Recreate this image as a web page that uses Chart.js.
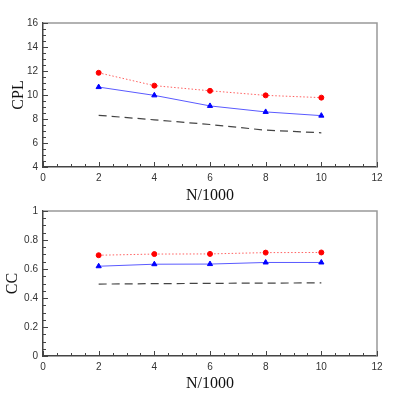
<!DOCTYPE html>
<html>
<head>
<meta charset="utf-8">
<script src="https://cdn.jsdelivr.net/npm/chart.js@4.4.0/dist/chart.umd.min.js"></script>
<style>
  html, body { margin: 0; padding: 0; background: #fff; }
  #wrap { position: relative; width: 399px; height: 399px; }
  canvas { position: absolute; left: 0; }
</style>
</head>
<body>
<div id="wrap">
  <canvas id="cplChart" width="399" height="200" style="top:0"></canvas>
  <canvas id="ccChart" width="399" height="199" style="top:200px"></canvas>
</div>
<script>
// N/1000 values
const nValues = [2, 4, 6, 8, 10];

// CPL panel
const cplRed = [11.85, 10.78, 10.35, 9.97, 9.78];
const cplBlue = [10.66, 9.97, 9.09, 8.59, 8.28];
const cplDashed = [8.31, 7.93, 7.54, 7.07, 6.85];

// CC panel
const ccRed = [0.695, 0.703, 0.704, 0.713, 0.714];
const ccBlue = [0.619, 0.633, 0.634, 0.645, 0.645];
const ccDashed = [0.496, 0.499, 0.501, 0.503, 0.504];

const tickFont = { family: "'Liberation Sans', Arial, sans-serif", size: 10 };
const titleFont = { family: "'Liberation Serif', 'Times New Roman', serif", size: 16 };

const toPoints = (ys) => ys.map((y, i) => ({ x: nValues[i], y: y }));

// draws the inward tick marks and the top/right frame lines
const frameTicks = {
    id: 'frameTicks',
    afterDraw(chart, args, opts) {
        const ctx = chart.ctx;
        const area = chart.chartArea;
        const xs = chart.scales.x;
        const ys = chart.scales.y;
        ctx.save();
        ctx.strokeStyle = '#999';
        ctx.lineWidth = 1.5;
        ctx.beginPath();
        ctx.moveTo(area.left, area.top);
        ctx.lineTo(area.right, area.top);
        ctx.lineTo(area.right, area.bottom);
        ctx.stroke();

        ctx.strokeStyle = '#444';
        ctx.lineWidth = 1;
        ctx.beginPath();
        const xStep = opts.xMinor;
        for (let v = xs.min; v <= xs.max + 1e-9; v += xStep) {
            const px = Math.round(xs.getPixelForValue(v)) + 0.5;
            const major = Math.abs(v / opts.xMajor - Math.round(v / opts.xMajor)) < 1e-6;
            ctx.moveTo(px, area.bottom);
            ctx.lineTo(px, area.bottom - (major ? 5 : 3));
        }
        const yStep = opts.yMinor;
        for (let v = ys.min; v <= ys.max + 1e-9; v += yStep) {
            const py = Math.round(ys.getPixelForValue(v)) + 0.5;
            const major = Math.abs(v / opts.yMajor - Math.round(v / opts.yMajor)) < 1e-6;
            ctx.moveTo(area.left, py);
            ctx.lineTo(area.left + (major ? 5 : 3), py);
        }
        ctx.stroke();
        ctx.restore();
    }
};

function makeChart(canvasId, cfg) {
    const ctx = document.getElementById(canvasId).getContext('2d');
    return new Chart(ctx, {
        type: 'line',
        data: {
            datasets: [
                {
                    data: toPoints(cfg.red),
                    borderColor: 'rgba(255, 80, 80, 0.9)',
                    borderWidth: 1,
                    borderDash: [1.5, 2],
                    pointStyle: 'circle',
                    pointRadius: 2.5,
                    pointBorderWidth: 1,
                    pointBackgroundColor: '#ff0000',
                    pointBorderColor: '#ff0000',
                    tension: 0,
                },
                {
                    data: toPoints(cfg.blue),
                    borderColor: '#5a5aff',
                    borderWidth: 1,
                    pointStyle: 'triangle',
                    pointRadius: 3,
                    pointBorderWidth: 1,
                    pointBackgroundColor: '#0000ff',
                    pointBorderColor: '#0000ff',
                    tension: 0,
                },
                {
                    data: toPoints(cfg.dashed),
                    borderColor: '#444',
                    borderWidth: 1.2,
                    borderDash: [8, 5],
                    pointRadius: 0,
                    tension: 0,
                },
            ]
        },
        options: {
            responsive: false,
            animation: false,
            devicePixelRatio: 1,
            layout: { padding: cfg.padding },
            plugins: {
                legend: { display: false },
                tooltip: { enabled: false },
                frameTicks: cfg.ticks,
            },
            scales: {
                x: {
                    type: 'linear',
                    min: 0,
                    max: 12,
                    ticks: { stepSize: 2, font: tickFont, color: '#333', padding: 5, maxRotation: 0 },
                    grid: { display: false, drawTicks: false },
                    border: { display: true, color: '#444', width: 1.5 },
                    title: { display: true, text: 'N/1000', font: titleFont, color: '#111', padding: cfg.xTitlePad },
                    afterFit: (scale) => { scale.height = cfg.xHeight; },
                },
                y: {
                    min: cfg.yMin,
                    max: cfg.yMax,
                    ticks: {
                        stepSize: cfg.yStep, font: tickFont, color: '#333', padding: 5,
                        callback: (v) => String(+v.toFixed(2)),
                    },
                    grid: { display: false, drawTicks: false },
                    border: { display: true, color: '#444', width: 1.5 },
                    title: { display: true, text: cfg.yTitle, font: titleFont, color: '#111', padding: cfg.yTitlePad },
                    afterFit: (scale) => { scale.width = 43; },
                }
            }
        },
        plugins: [frameTicks]
    });
}

makeChart('cplChart', {
    red: cplRed, blue: cplBlue, dashed: cplDashed,
    yMin: 4, yMax: 16, yStep: 2, yTitle: 'CPL',
    yTitlePad: { top: 9, bottom: 0 },
    xTitlePad: { top: 0, bottom: -5 },
    xHeight: 33,
    padding: { top: 23, right: 22, left: 0, bottom: 0 },
    ticks: { xMinor: 0.5, xMajor: 2, yMinor: 0.5, yMajor: 2 },
});

makeChart('ccChart', {
    red: ccRed, blue: ccBlue, dashed: ccDashed,
    yMin: 0, yMax: 1, yStep: 0.2, yTitle: 'CC',
    yTitlePad: { top: 3, bottom: 0 },
    xTitlePad: { top: 0, bottom: 6 },
    xHeight: 43,
    padding: { top: 11, right: 22, left: 0, bottom: 0 },
    ticks: { xMinor: 0.5, xMajor: 2, yMinor: 0.05, yMajor: 0.2 },
});
</script>
</body>
</html>
